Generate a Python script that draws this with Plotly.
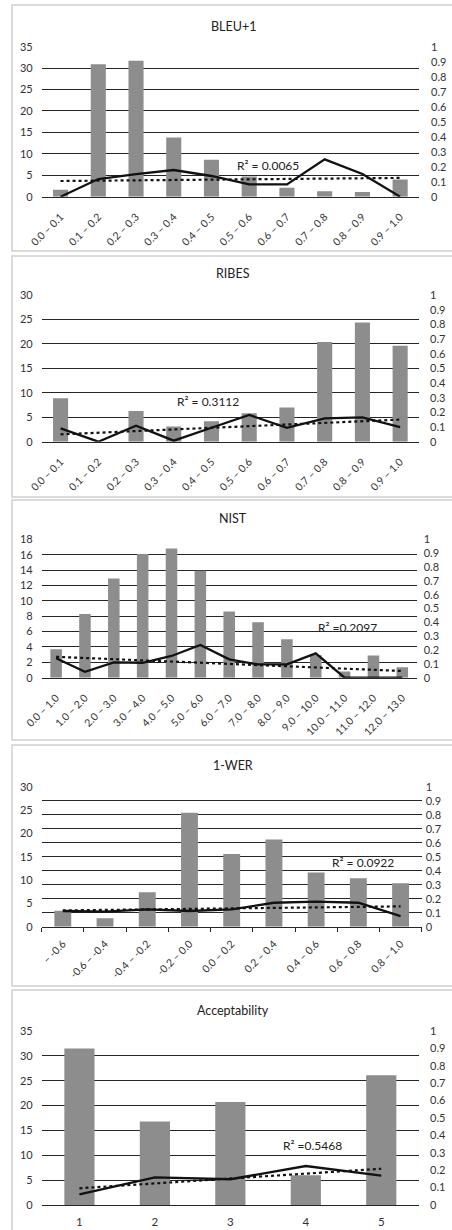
import numpy as np
import plotly.graph_objects as go

W, H = 452, 1230

# ---------------- data ----------------
bleu_cats = ["0.0 – 0.1", "0.1 – 0.2", "0.2 – 0.3", "0.3 – 0.4", "0.4 – 0.5",
             "0.5 – 0.6", "0.6 – 0.7", "0.7 – 0.8", "0.8 – 0.9", "0.9 – 1.0"]
bleu_counts = [1.6, 30.9, 31.7, 13.8, 8.6, 4.7, 2.1, 1.3, 1.1, 4.0]
bleu_corr = [0.0, 0.118, 0.151, 0.178, 0.138, 0.082, 0.082, 0.249, 0.151, 0.0]
bleu_r2 = "R² = 0.0065"

ribes_cats = list(bleu_cats)
ribes_counts = [8.9, 0.0, 6.3, 3.1, 4.2, 5.8, 7.0, 20.4, 24.4, 19.6]
ribes_corr = [0.091, 0.0, 0.109, 0.007, 0.095, 0.182, 0.095, 0.159, 0.166, 0.100]
ribes_r2 = "R² = 0.3112"

nist_cats = ["0.0 – 1.0", "1.0 – 2.0", "2.0 – 3.0", "3.0 – 4.0", "4.0 – 5.0",
             "5.0 – 6.0", "6.0 – 7.0", "7.0 – 8.0", "8.0 – 9.0", "9.0 – 10.0",
             "10.0 – 11.0", "11.0 – 12.0", "12.0 – 13.0"]
nist_counts = [3.7, 8.3, 12.9, 16.1, 16.8, 13.9, 8.6, 7.2, 5.0, 2.95, 0.8, 2.9, 1.35]
nist_corr = [0.140, 0.043, 0.111, 0.108, 0.157, 0.236, 0.133, 0.096, 0.096, 0.176, 0.0, 0.0, 0.0]
nist_r2 = "R² =0.2097"

wer_cats = ["– -0.6", "-0.6 – -0.4", "-0.4 – -0.2", "-0.2 – 0.0", "0.0 – 0.2",
            "0.2 – 0.4", "0.4 – 0.6", "0.6 – 0.8", "0.8 – 1.0"]
wer_counts = [3.4, 1.8, 7.4, 24.4, 15.6, 18.7, 11.6, 10.4, 9.3]
wer_corr = [0.112, 0.107, 0.124, 0.112, 0.124, 0.171, 0.179, 0.171, 0.076]
wer_r2 = "R² = 0.0922"

acc_cats = ["1", "2", "3", "4", "5"]
acc_counts = [31.5, 16.8, 20.7, 6.0, 26.1]
acc_corr = [0.061, 0.159, 0.148, 0.224, 0.169]
acc_r2 = "R² =0.5468"

titles = ["BLEU+1", "RIBES", "NIST", "1-WER", "Acceptability"]
left_max = [35, 30, 18, 30, 35]
left_dtick = [5, 5, 2, 5, 5]

# ---------------- layout geometry (pixels) ----------------
panels = [
    dict(cats=bleu_cats, counts=bleu_counts, corr=bleu_corr, r2=bleu_r2,
         plot=(41.7, 419, 46.7, 196.7), box=(12, 5, 251), title_y=26.7,
         r2_xy=(268, 165.7), rlen=11, grid_right=False),
    dict(cats=ribes_cats, counts=ribes_counts, corr=ribes_corr, r2=ribes_r2,
         plot=(41.7, 419, 295, 441.7), box=(12, 256, 497), title_y=273.3,
         r2_xy=(208, 401.7), rlen=10, grid_right=False),
    dict(cats=nist_cats, counts=nist_counts, corr=nist_corr, r2=nist_r2,
         plot=(41.7, 416.7, 539.3, 677.7), box=(12, 500, 740), title_y=518.3,
         r2_xy=(347, 627.7), rlen=6, grid_right=False),
    dict(cats=wer_cats, counts=wer_counts, corr=wer_corr, r2=wer_r2,
         plot=(41.7, 421.7, 786.7, 926.7), box=(12, 745, 986), title_y=765,
         r2_xy=(363, 862.7), rlen=3, grid_right=True),
    dict(cats=acc_cats, counts=acc_counts, corr=acc_corr, r2=acc_r2,
         plot=(41.7, 419, 1031, 1205), box=(12, 990, 1240), title_y=1010,
         r2_xy=(312, 1145), rlen=10, grid_right=False),
]


def px(x):
    return x / W


def py(y):
    return 1 - y / H


TXT = "#333333"
GRID = "#262626"
BAR = "#8d8d8d"

fig = go.Figure()
layout = dict(
    template="none",
    width=W, height=H,
    margin=dict(l=0, r=0, t=0, b=0, pad=0, autoexpand=False),
    paper_bgcolor="white", plot_bgcolor="rgba(0,0,0,0)",
    font=dict(family="Lato", size=11, color=TXT),
    showlegend=False, bargap=0.6,
    shapes=[], annotations=[],
)

for i, p in enumerate(panels, start=1):
    xn = "x" if i == 1 else f"x{i}"
    yn = "y" if i == 1 else f"y{i}"
    yr = f"y{i + 5}"
    x0, x1, y0, y1 = p["plot"]
    cats = p["cats"]
    idx = np.arange(len(cats))

    fig.add_trace(go.Bar(x=cats, y=p["counts"], xaxis=xn, yaxis=yn,
                         marker=dict(color=BAR, line=dict(width=0))))
    fig.add_trace(go.Scatter(x=cats, y=p["corr"], xaxis=xn, yaxis=yr,
                             mode="lines", line=dict(color="#111111", width=2.3)))
    # linear trendline fitted to the correlation series (as in the source chart)
    k, b = np.polyfit(idx, np.asarray(p["corr"]), 1)
    fig.add_trace(go.Scatter(x=cats, y=k * idx + b, xaxis=xn, yaxis=yr,
                             mode="lines", line=dict(color="#111111", width=2.2, dash="dot")))

    xa = dict(domain=[px(x0), px(x1)], anchor=yn, type="category", automargin=False,
              tickangle=-45 if i < 5 else 0, tickfont=dict(size=10.5 if i < 5 else 11.5),
              showgrid=False, zeroline=False, showline=True, linecolor=GRID, linewidth=1,
              fixedrange=True)
    if i == 4:
        xa.update(ticks="outside", tickson="boundaries", ticklen=4, tickcolor=GRID,
                  ticklabelstandoff=6)
    else:
        xa.update(ticks="", ticklabelstandoff=9 if i < 5 else 6)
    layout[f"xaxis{i}"] = xa

    layout[f"yaxis{i}"] = dict(
        domain=[py(y1), py(y0)], anchor=xn, range=[0, left_max[i - 1]], automargin=False,
        dtick=left_dtick[i - 1], tick0=0, showgrid=not p["grid_right"],
        gridcolor=GRID, gridwidth=1, zeroline=False, showline=False,
        ticks="", ticklabelstandoff=8, tickfont=dict(size=11), fixedrange=True)
    layout[f"yaxis{i + 5}"] = dict(
        overlaying=yn, anchor=xn, side="right", range=[0, 1], dtick=0.1, tick0=0,
        automargin=False,
        showgrid=p["grid_right"], gridcolor=GRID, gridwidth=1, zeroline=False,
        showline=False, ticks="", ticklabelstandoff=p["rlen"], tickfont=dict(size=11),
        fixedrange=True)

    bx, by0, by1 = p["box"]
    layout["shapes"].append(dict(type="rect", xref="paper", yref="paper",
                                 x0=px(bx), x1=px(bx + 445), y0=py(by1), y1=py(by0),
                                 line=dict(color="#cfcfcf", width=1.5), layer="below"))
    layout["annotations"].append(dict(text=titles[i - 1], xref="paper", yref="paper",
                                      x=px(233), y=py(p["title_y"]), showarrow=False,
                                      xanchor="center", yanchor="middle",
                                      font=dict(size=12.5, color="#222222")))
    rx, ry = p["r2_xy"]
    layout["annotations"].append(dict(text=p["r2"], xref="paper", yref="paper",
                                      x=px(rx), y=py(ry), showarrow=False,
                                      xanchor="center", yanchor="middle",
                                      font=dict(size=12, color="#222222")))

fig.update_layout(**layout)
fig.write_html("out.html", config={"displayModeBar": False},
               post_script="document.body.style.margin='0';document.body.style.overflow='hidden';")
